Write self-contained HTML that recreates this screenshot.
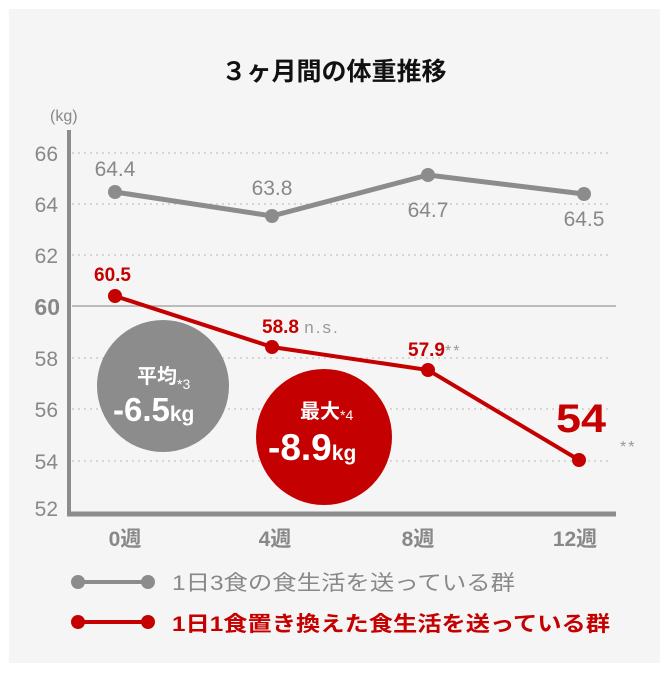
<!DOCTYPE html>
<html><head><meta charset="utf-8"><style>
body{margin:0;background:#fff;width:669px;height:678px;overflow:hidden}
svg{display:block}
text{font-family:"Liberation Sans","Noto Sans CJK JP",sans-serif}
</style></head><body>
<svg width="669" height="678" viewBox="0 0 669 678">
<rect x="9" y="9" width="651" height="654" fill="#f5f5f5"/>
<text x="334" y="80" text-anchor="middle" font-size="25" font-weight="bold" fill="#111">３ヶ月間の体重推移</text>
<text x="50" y="121" font-size="16" fill="#888">(kg)</text>
<g stroke="#ccc" stroke-width="1.5" stroke-dasharray="2,4">
<line x1="72" y1="153" x2="610" y2="153"/>
<line x1="72" y1="204" x2="610" y2="204"/>
<line x1="72" y1="255" x2="610" y2="255"/>
<line x1="72" y1="358" x2="610" y2="358"/>
<line x1="72" y1="409" x2="610" y2="409"/>
<line x1="72" y1="461" x2="610" y2="461"/>
</g>
<line x1="72" y1="306" x2="616" y2="306" stroke="#aaa" stroke-width="1.5"/>
<g font-size="21" fill="#888" text-anchor="end">
<text x="58" y="161">66</text><text x="58" y="212">64</text><text x="58" y="263">62</text>
<text x="60" y="315" font-weight="bold" font-size="23">60</text>
<text x="58" y="366">58</text><text x="58" y="417">56</text><text x="58" y="469">54</text><text x="58" y="516">52</text>
</g>
<line x1="69" y1="130" x2="69" y2="516" stroke="#8c8c8c" stroke-width="4"/>
<line x1="67" y1="514" x2="616" y2="514" stroke="#8c8c8c" stroke-width="5"/>
<g font-size="21" font-weight="bold" fill="#888" text-anchor="middle">
<text x="125" y="546">0週</text><text x="275" y="546">4週</text><text x="418" y="546">8週</text><text x="575" y="546">12週</text>
</g>
<circle cx="163" cy="386" r="66" fill="#8c8c8c"/>
<circle cx="324" cy="437" r="68" fill="#c40000"/>
<text x="137" y="383" font-size="20" font-weight="bold" fill="#fff">平均<tspan font-size="14" font-weight="normal" dy="6">*3</tspan></text>
<text x="113" y="421" font-size="33" font-weight="bold" fill="#fff">-6.5<tspan font-size="21">kg</tspan></text>
<text x="300" y="418" font-size="20" font-weight="bold" fill="#fff">最大<tspan font-size="14" font-weight="normal" dy="2">*4</tspan></text>
<text x="268" y="460" font-size="37" font-weight="bold" fill="#fff">-8.9<tspan font-size="21">kg</tspan></text>
<polyline points="115,192 272,216 428,175 584,194" fill="none" stroke="#8c8c8c" stroke-width="5"/>
<g fill="#8c8c8c"><circle cx="115" cy="192" r="7"/><circle cx="272" cy="216" r="7"/><circle cx="428" cy="175" r="7"/><circle cx="584" cy="194" r="7"/></g>
<g font-size="21" fill="#888" text-anchor="middle">
<text x="115" y="176">64.4</text><text x="272" y="195">63.8</text><text x="428" y="217">64.7</text><text x="584" y="226">64.5</text>
</g>
<polyline points="115,296 272,347 428,370 579,460" fill="none" stroke="#c40000" stroke-width="4"/>
<g fill="#c40000"><circle cx="115" cy="296" r="7"/><circle cx="272" cy="347" r="7"/><circle cx="428" cy="370" r="7"/><circle cx="579" cy="460" r="7"/></g>
<g font-weight="bold" fill="#c40000">
<text x="94" y="281" font-size="19">60.5</text>
<text x="262" y="333" font-size="19">58.8 <tspan font-weight="normal" fill="#999" font-size="17" letter-spacing="2">n.s.</tspan></text>
<text x="408" y="356" font-size="19">57.9<tspan font-weight="normal" fill="#999" font-size="16" letter-spacing="2">**</tspan></text>
<text x="556" y="432" font-size="40" textLength="50" lengthAdjust="spacingAndGlyphs">54</text>
</g>
<text x="620" y="452" font-size="16" fill="#999" letter-spacing="2">**</text>
<line x1="78" y1="582" x2="148" y2="582" stroke="#8c8c8c" stroke-width="4"/>
<circle cx="78" cy="582" r="7" fill="#8c8c8c"/><circle cx="148" cy="582" r="7" fill="#8c8c8c"/>
<text x="172" y="590" font-size="21" fill="#888" textLength="343" lengthAdjust="spacingAndGlyphs">1日3食の食生活を送っている群</text>
<line x1="78" y1="622" x2="148" y2="622" stroke="#c40000" stroke-width="4"/>
<circle cx="78" cy="622" r="7" fill="#c40000"/><circle cx="148" cy="622" r="7" fill="#c40000"/>
<text x="172" y="631" font-size="21" font-weight="bold" fill="#c40000" textLength="438" lengthAdjust="spacingAndGlyphs">1日1食置き換えた食生活を送っている群</text>
</svg>
</body></html>
